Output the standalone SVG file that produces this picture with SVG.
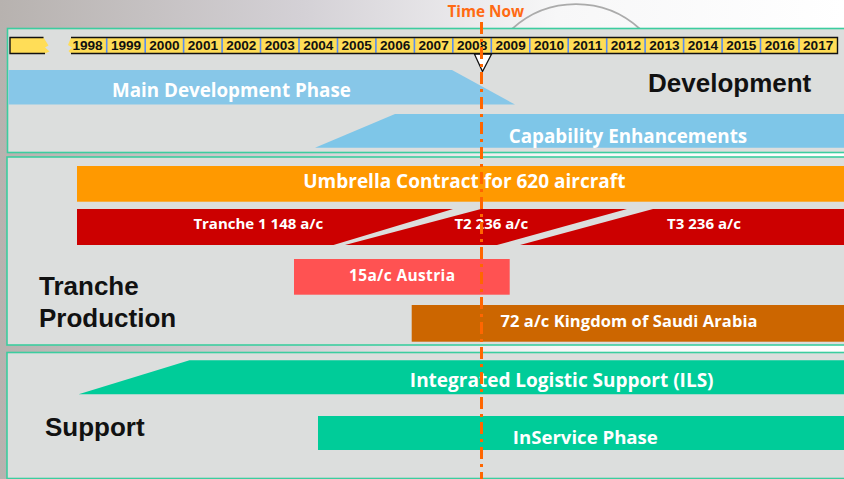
<svg xmlns="http://www.w3.org/2000/svg" width="844" height="479" viewBox="0 0 844 479">
<defs>
<linearGradient id="bg" x1="0" y1="0" x2="844" y2="0" gradientUnits="userSpaceOnUse">
<stop offset="0" stop-color="#b7b2af"/>
<stop offset="0.36" stop-color="#d4d1d6"/>
<stop offset="0.66" stop-color="#f7f7f8"/>
<stop offset="1" stop-color="#ffffff"/>
</linearGradient>
<style>
.panel{fill:#dcdedd;stroke:#3ccd9f;stroke-width:1.6}
.lbl{font-family:"Open Sans","Liberation Sans",sans-serif;font-weight:700;fill:#ffffff;text-anchor:middle}
.head{font-family:"Liberation Sans",Arial,sans-serif;font-weight:700;fill:#111111;font-size:26px}
.yr{font-family:"Liberation Sans",Arial,sans-serif;font-weight:700;font-size:13.6px;text-anchor:middle;fill:#111111}
.sep{stroke:#5a8df0;stroke-width:1.6}
.tl{fill:#ffdd57}
.tlb{fill:none;stroke:#111111;stroke-width:1.4}
.now{stroke:#ff6600;stroke-width:3;stroke-dasharray:12 5 3 5;fill:none}
</style>
</defs>
<rect x="0" y="0" width="844" height="479" fill="url(#bg)"/>
<path d="M512,29 A95,95 0 0 1 640,29" fill="none" stroke="#ababab" stroke-width="1.8"/>

<g id="panel-development">
<rect class="panel" x="7.5" y="28.5" width="850" height="124"/>
<text class="head" x="648" y="92" font-size="26.5">Development</text>
</g>
<g id="panel-tranche">
<rect class="panel" x="7" y="157" width="850" height="188"/>
<text class="head" x="39" y="295">Tranche</text>
<text class="head" x="39" y="327">Production</text>
</g>
<g id="panel-support">
<rect class="panel" x="7" y="352.5" width="850" height="126"/>
<text class="head" x="45" y="436">Support</text>
</g>

<g id="main-development-phase">
<polygon points="8.5,70 452,70 515,104.5 8.5,104.5" fill="#87c7e8"/>
<text class="lbl" x="231.4" y="97.3" font-size="18.8">Main Development Phase</text>
</g>
<g id="capability-enhancements">
<polygon points="315,147.7 395,114 850,114 850,147.7" fill="#7ec6e8"/>
<text class="lbl" x="628" y="143.3" font-size="18.8">Capability Enhancements</text>
</g>
<g id="umbrella-contract">
<rect x="77" y="166" width="773" height="35.7" fill="#ff9900"/>
<text class="lbl" x="464.3" y="188.3" font-size="19">Umbrella Contract for 620 aircraft</text>
</g>
<g id="tranche-1">
<polygon points="77,209 453,209 333.5,245 77,245" fill="#cc0000"/>
<text class="lbl" x="258.3" y="229.3" font-size="15">Tranche 1 148 a/c</text>
</g>
<g id="tranche-2">
<polygon points="481,209 627,209 497,245 345,245" fill="#cc0000"/>
<text class="lbl" x="491.3" y="229.3" font-size="15">T2 236 a/c</text>
</g>
<g id="tranche-3">
<polygon points="653,209 850,209 850,245 520,245" fill="#cc0000"/>
<text class="lbl" x="704" y="229.3" font-size="15">T3 236 a/c</text>
</g>
<g id="austria">
<rect x="294" y="259" width="215.7" height="35.7" fill="#ff5252"/>
<text class="lbl" x="402" y="280.7" font-size="15.5" textLength="106">15a/c Austria</text>
</g>
<g id="saudi-arabia">
<rect x="411.7" y="305" width="440" height="36.7" fill="#cc6600"/>
<text class="lbl" x="629" y="327.3" font-size="16.5" textLength="257">72 a/c Kingdom of Saudi Arabia</text>
</g>
<g id="ils">
<polygon points="78.6,394.3 189.5,360.3 850,360.3 850,394.3" fill="#00cc99"/>
<text class="lbl" x="561.7" y="386.7" font-size="19">Integrated Logistic Support (ILS)</text>
</g>
<g id="inservice-phase">
<rect x="318" y="416" width="532" height="34" fill="#00cc99"/>
<text class="lbl" x="585.3" y="444" font-size="18.6">InService Phase</text>
</g>

<g id="timeline">
<path class="tl" d="M10,37.5 L43.5,37.5 L48.5,45.5 L45,47.5 L49.5,51.5 L45,53.5 L10,53.5 Z"/>
<polyline class="tlb" points="43.5,37.5 10,37.5 10,53.5 45,53.5"/>
<path class="tl" d="M71,37.5 L837.5,37.5 L837.5,53.5 L71,53.5 L68.5,51 L72,47.5 L68,45 Z"/>
<g>
<line class="sep" x1="106.7" y1="38.2" x2="106.7" y2="52.8"/>
<line class="sep" x1="145.2" y1="38.2" x2="145.2" y2="52.8"/>
<line class="sep" x1="183.6" y1="38.2" x2="183.6" y2="52.8"/>
<line class="sep" x1="222.1" y1="38.2" x2="222.1" y2="52.8"/>
<line class="sep" x1="260.5" y1="38.2" x2="260.5" y2="52.8"/>
<line class="sep" x1="299" y1="38.2" x2="299" y2="52.8"/>
<line class="sep" x1="337.5" y1="38.2" x2="337.5" y2="52.8"/>
<line class="sep" x1="375.9" y1="38.2" x2="375.9" y2="52.8"/>
<line class="sep" x1="414.4" y1="38.2" x2="414.4" y2="52.8"/>
<line class="sep" x1="452.8" y1="38.2" x2="452.8" y2="52.8"/>
<line class="sep" x1="491.3" y1="38.2" x2="491.3" y2="52.8"/>
<line class="sep" x1="529.8" y1="38.2" x2="529.8" y2="52.8"/>
<line class="sep" x1="568.2" y1="38.2" x2="568.2" y2="52.8"/>
<line class="sep" x1="606.7" y1="38.2" x2="606.7" y2="52.8"/>
<line class="sep" x1="645.1" y1="38.2" x2="645.1" y2="52.8"/>
<line class="sep" x1="683.6" y1="38.2" x2="683.6" y2="52.8"/>
<line class="sep" x1="722.1" y1="38.2" x2="722.1" y2="52.8"/>
<line class="sep" x1="760.5" y1="38.2" x2="760.5" y2="52.8"/>
<line class="sep" x1="799" y1="38.2" x2="799" y2="52.8"/>
</g>
<polyline class="tlb" points="71,37.5 837.5,37.5 837.5,53.5 71,53.5"/>
<g>
<text class="yr" x="87.5" y="49.5">1998</text>
<text class="yr" x="126" y="49.5">1999</text>
<text class="yr" x="164.4" y="49.5">2000</text>
<text class="yr" x="202.9" y="49.5">2001</text>
<text class="yr" x="241.3" y="49.5">2002</text>
<text class="yr" x="279.8" y="49.5">2003</text>
<text class="yr" x="318.3" y="49.5">2004</text>
<text class="yr" x="356.7" y="49.5">2005</text>
<text class="yr" x="395.2" y="49.5">2006</text>
<text class="yr" x="433.6" y="49.5">2007</text>
<text class="yr" x="472.1" y="49.5">2008</text>
<text class="yr" x="510.6" y="49.5">2009</text>
<text class="yr" x="549" y="49.5">2010</text>
<text class="yr" x="587.5" y="49.5">2011</text>
<text class="yr" x="625.9" y="49.5">2012</text>
<text class="yr" x="664.4" y="49.5">2013</text>
<text class="yr" x="702.9" y="49.5">2014</text>
<text class="yr" x="741.3" y="49.5">2015</text>
<text class="yr" x="779.8" y="49.5">2016</text>
<text class="yr" x="818.2" y="49.5">2017</text>
</g>
<polygon points="474.5,54.2 491.5,54.2 482.5,71.5" fill="#ffffff" stroke="#111111" stroke-width="1.3"/>
</g>

<g id="connectors">
<line class="now" x1="481.5" y1="22" x2="481.5" y2="479"/>
</g>
<g id="time-now">
<text x="485.8" y="16.7" font-family="'Open Sans','Liberation Sans',sans-serif" font-weight="700" font-size="15.3" fill="#ff6a13" text-anchor="middle">Time Now</text>
</g>
</svg>
